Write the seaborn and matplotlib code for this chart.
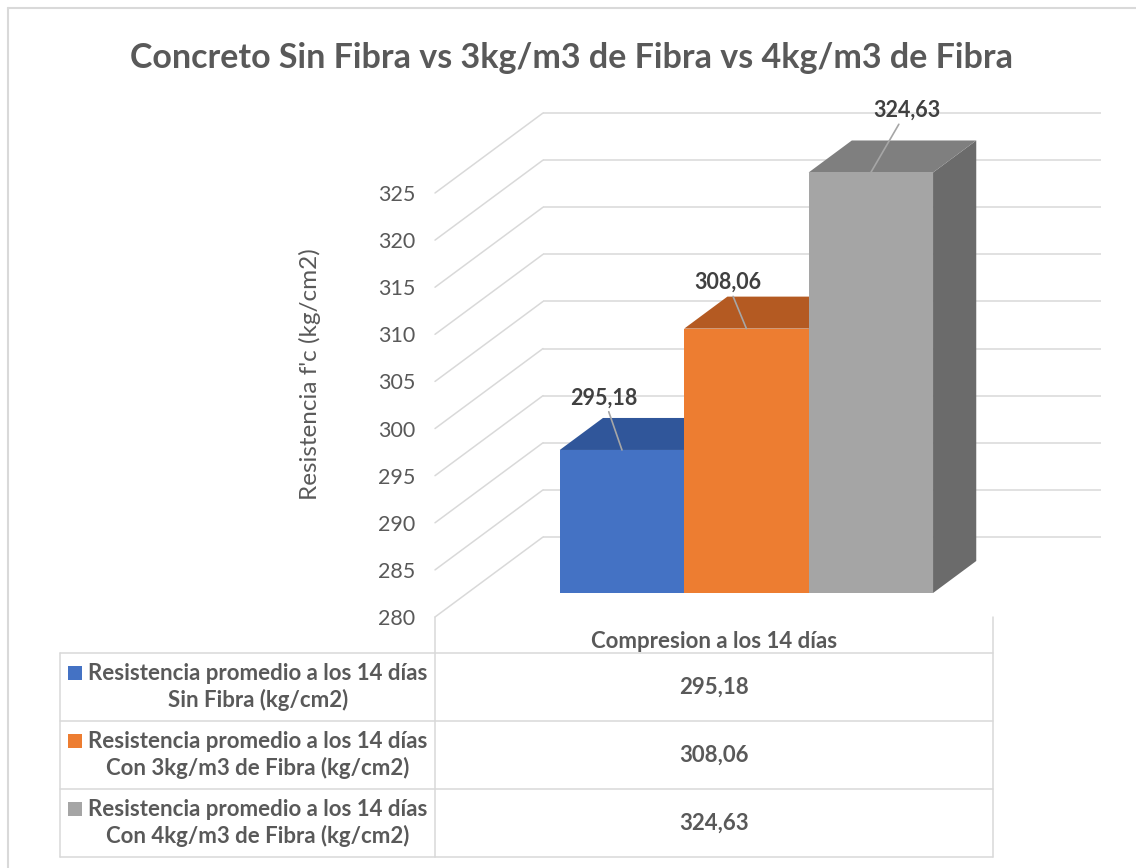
import matplotlib
matplotlib.use("Agg")
import matplotlib.pyplot as plt
from matplotlib.patches import Polygon, Rectangle
from matplotlib.lines import Line2D
import pandas as pd
import seaborn as sns

# ---- data -------------------------------------------------------------
titulo = "Concreto Sin Fibra vs 3kg/m3 de Fibra vs 4kg/m3 de Fibra"
categoria = "Compresion a los 14 días"
series = [
    "Resistencia promedio a los 14 días\nSin Fibra (kg/cm2)",
    "Resistencia promedio a los 14 días\nCon 3kg/m3 de Fibra (kg/cm2)",
    "Resistencia promedio a los 14 días\nCon 4kg/m3 de Fibra (kg/cm2)",
]
valores = [295.18, 308.06, 324.63]
ticks_y = [280, 285, 290, 295, 300, 305, 310, 315, 320, 325]
etiqueta_y = "Resistencia f'c (kg/cm2)"

# ---- style ------------------------------------------------------------
colores_frente = ["#4472C4", "#ED7D31", "#A5A5A5"]
colores_tapa = ["#30569A", "#B45A22", "#7F7F7F"]
colores_lado = ["#2A4B87", "#9E4E1D", "#6B6B6B"]
gris_texto = "#595959"
gris_linea = "#D9D9D9"

W, H = 1136, 868
sns.set_theme(style="white")
plt.rcParams["font.family"] = ["Lato", "DejaVu Sans"]

fig = plt.figure(figsize=(W / 100, H / 100), dpi=100)


def fx(px):
    return px / W


def fy(py):
    return 1 - py / H


# front plane of the 3-D box (depth 0)
y0, y1 = 280, 330
px_unit = 424 / 45
ax_left, ax_right, ax_base = 435, 993, 617
ax = fig.add_axes([fx(ax_left), fy(ax_base),
                   (ax_right - ax_left) / W, (y1 - y0) * px_unit / H])

# oblique depth direction, pixels per unit depth
DX, DY = 108, 80


def shift(d):
    return DX * d / (ax_right - ax_left), DY * d / px_unit


df = pd.DataFrame({"ensayo": [categoria] * len(series),
                   "serie": series, "valor": valores})
sns.barplot(data=df, x="ensayo", y="valor", hue="serie", hue_order=series,
            palette=colores_frente, width=0.669, saturation=1,
            errorbar=None, legend=False, linewidth=0, ax=ax)
ax.set_xlim(-0.5, 0.5)
ax.set_ylim(y0, y1)

# back wall and side wall gridlines
sx, sy = shift(1.0)
for t in ticks_y:
    ax.plot([-0.5 + sx, 0.5 + sx], [t + sy, t + sy], color=gris_linea,
            lw=1.1, clip_on=False, zorder=1, solid_capstyle="butt")
    ax.plot([-0.5, -0.5 + sx], [t, t + sy], color=gris_linea,
            lw=1.1, clip_on=False, zorder=1)

# bars: front face from seaborn, plus top and side faces
d_front, d_back = 0.3, 0.7
fx0, fy0 = shift(d_front)
bx0, by0 = shift(d_back)
offsets_px = [(-18, 52), (-19, 46), (36, 62)]
bars = sorted(ax.patches, key=lambda p: p.get_x())
for i, p in enumerate(bars):
    v = p.get_height()
    x0 = p.get_x()
    x1 = x0 + p.get_width()
    p.set_x(x0 + fx0)
    p.set_y(y0 + fy0)
    p.set_height(v - y0)
    p.set_clip_on(False)
    p.set_zorder(10 + 3 * i + 2)
    lado = Polygon([(x1 + fx0, y0 + fy0), (x1 + bx0, y0 + by0),
                    (x1 + bx0, v + by0), (x1 + fx0, v + fy0)],
                   closed=True, facecolor=colores_lado[i], edgecolor="none",
                   clip_on=False, zorder=10 + 3 * i)
    tapa = Polygon([(x0 + fx0, v + fy0), (x1 + fx0, v + fy0),
                    (x1 + bx0, v + by0), (x0 + bx0, v + by0)],
                   closed=True, facecolor=colores_tapa[i], edgecolor="none",
                   clip_on=False, zorder=10 + 3 * i + 1)
    ax.add_patch(lado)
    ax.add_patch(tapa)
    xc = (x0 + x1) / 2 + fx0
    ox, oy = offsets_px[i]
    ax.annotate(f"{v:.2f}".replace(".", ","), xy=(xc, v + fy0),
                xytext=(ox * 0.72, oy * 0.72), textcoords="offset points",
                ha="center", va="center", fontsize=15.5, fontweight="bold",
                color="#404040", annotation_clip=False, zorder=30,
                arrowprops=dict(arrowstyle="-", color="#A6A6A6", lw=1.2,
                                shrinkA=0, shrinkB=0))

ax.set_xlabel("")
ax.set_ylabel("")
ax.set_xticks([])
ax.set_yticks(ticks_y)
ax.set_yticklabels([str(t) for t in ticks_y])
ax.tick_params(axis="y", length=0, pad=14.4, labelsize=15.5,
               labelcolor=gris_texto)
for s in ax.spines.values():
    s.set_visible(False)
ax.patch.set_alpha(0)

# titles
fig.text(fx(571), fy(68), titulo, ha="center", va="baseline",
         fontsize=24.5, fontweight="bold", color=gris_texto)
fig.text(fx(310), fy(374), etiqueta_y, rotation=90, ha="center",
         va="center", fontsize=17.5, color=gris_texto)


# data table under the plot
def hline(x0, x1, y):
    fig.add_artist(Line2D([fx(x0), fx(x1)], [fy(y), fy(y)],
                          color=gris_linea, lw=1.1))


def vline(x, ya, yb):
    fig.add_artist(Line2D([fx(x), fx(x)], [fy(ya), fy(yb)],
                          color=gris_linea, lw=1.1))


tab_left, row_top, row_h = 60, 653, 68
n = len(series)
for k in range(n + 1):
    hline(tab_left, ax_right, row_top + k * row_h)
vline(tab_left, row_top, row_top + n * row_h)
vline(ax_left, ax_base, row_top + n * row_h)
vline(ax_right, ax_base, row_top + n * row_h)

fig.text(fx((ax_left + ax_right) / 2), fy(641), categoria, ha="center",
         va="center", fontsize=16, fontweight="bold", color=gris_texto)
for i, (nombre, v) in enumerate(zip(series, valores)):
    yc = row_top + i * row_h + row_h / 2
    fig.text(fx(258), fy(yc), nombre, ha="center", va="center",
             multialignment="center", linespacing=1.22, fontsize=16,
             fontweight="bold", color=gris_texto)
    fig.add_artist(Rectangle((fx(68), fy(yc - 7.5)), 14 / W, 14 / H,
                             facecolor=colores_frente[i], edgecolor="none"))
    fig.text(fx((ax_left + ax_right) / 2), fy(yc),
             f"{v:.2f}".replace(".", ","), ha="center", va="center",
             fontsize=16, fontweight="bold", color=gris_texto)

# chart frame (top and left edges)
fig.add_artist(Line2D([fx(8), fx(W)], [fy(8), fy(8)], color=gris_linea, lw=1.5))
fig.add_artist(Line2D([fx(8), fx(8)], [fy(8), fy(H)], color=gris_linea, lw=1.5))

fig.savefig("out.png", dpi=100)
